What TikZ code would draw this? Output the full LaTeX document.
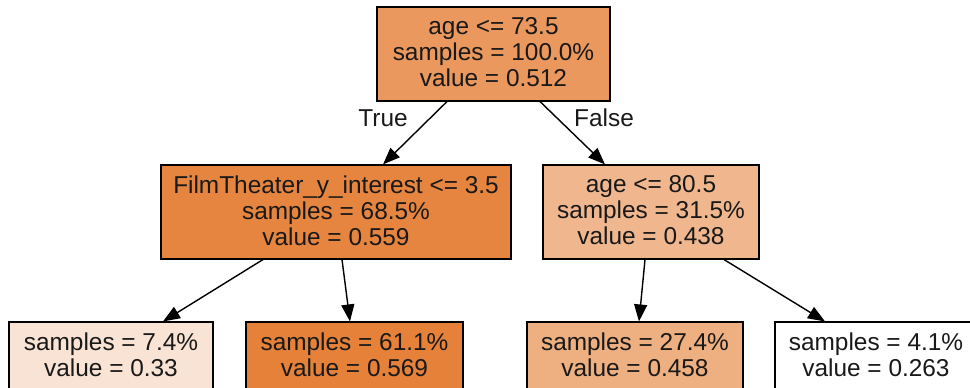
\documentclass[tikz,border=0pt]{standalone}
\usepackage{fontspec}
\setmainfont{Liberation Sans}
\usetikzlibrary{arrows.meta}
\newcommand\lastlinestrut{\rule[-3.5pt]{0pt}{0pt}}
\definecolor{cRoot}{RGB}{234,152,94}
\definecolor{cLC}{RGB}{230,133,64}
\definecolor{cRC}{RGB}{240,183,142}
\definecolor{cLL}{RGB}{249,227,212}
\definecolor{cLR}{RGB}{229,129,57}
\definecolor{cRL}{RGB}{238,175,129}
\definecolor{cRR}{RGB}{255,255,255}
\tikzset{
  treebox/.style={rectangle, draw=black, line width=1.1pt, inner sep=0pt, align=center,
    font=\fontsize{24.4}{26}\selectfont, text=black!90},
  big/.style={treebox, minimum height=94pt},
  small/.style={treebox, minimum height=68pt},
  edge/.style={line width=1.4pt, -{Triangle[length=17pt,width=13pt]}},
  edgelabel/.style={font=\fontsize{24.4}{26}\selectfont, inner sep=0pt, text=black!90}
}
\begin{document}
\begin{tikzpicture}[x=1pt,y=-1pt]
\useasboundingbox (0,0) rectangle (970,388);
\node[big, fill=cRoot, minimum width=233pt] (root) at (493.5,54)
  {age <= 73.5\\samples = 100.0\%\\value = 0.512\lastlinestrut};
\node[big, fill=cLC, minimum width=350pt] (lc) at (336,212)
  {FilmTheater\_y\_interest <= 3.5\\samples = 68.5\%\\value = 0.559\lastlinestrut};
\node[big, fill=cRC, minimum width=216pt] (rc) at (651,212)
  {age <= 80.5\\samples = 31.5\%\\value = 0.438\lastlinestrut};
\node[small, fill=cLL, minimum width=204pt] (ll) at (111,356)
  {samples = 7.4\%\\value = 0.33\lastlinestrut};
\node[small, fill=cLR, minimum width=217pt] (lr) at (354.5,356)
  {samples = 61.1\%\\value = 0.569\lastlinestrut};
\node[small, fill=cRL, minimum width=216pt] (rl) at (635,356)
  {samples = 27.4\%\\value = 0.458\lastlinestrut};
\node[small, fill=cRR, minimum width=202pt] (rr) at (876,356)
  {samples = 4.1\%\\value = 0.263\lastlinestrut};
\draw[edge] ([xshift=-46.5pt]root.south) -- ([xshift=47pt]lc.north);
\draw[edge] ([xshift=46.5pt]root.south) -- ([xshift=-46pt]rc.north);
\draw[edge] ([xshift=-73pt]lc.south) -- ([xshift=52pt]ll.north);
\draw[edge] ([xshift=6pt]lc.south) -- ([xshift=-4.5pt]lr.north);
\draw[edge] ([xshift=-6pt]rc.south) -- ([xshift=4pt]rl.north);
\draw[edge] ([xshift=73pt]rc.south) -- ([xshift=-51pt]rr.north);
\node[edgelabel] (truelabel) at (383,118) {True};
\node[edgelabel] (falselabel) at (604,118) {False};
\end{tikzpicture}
\end{document}
